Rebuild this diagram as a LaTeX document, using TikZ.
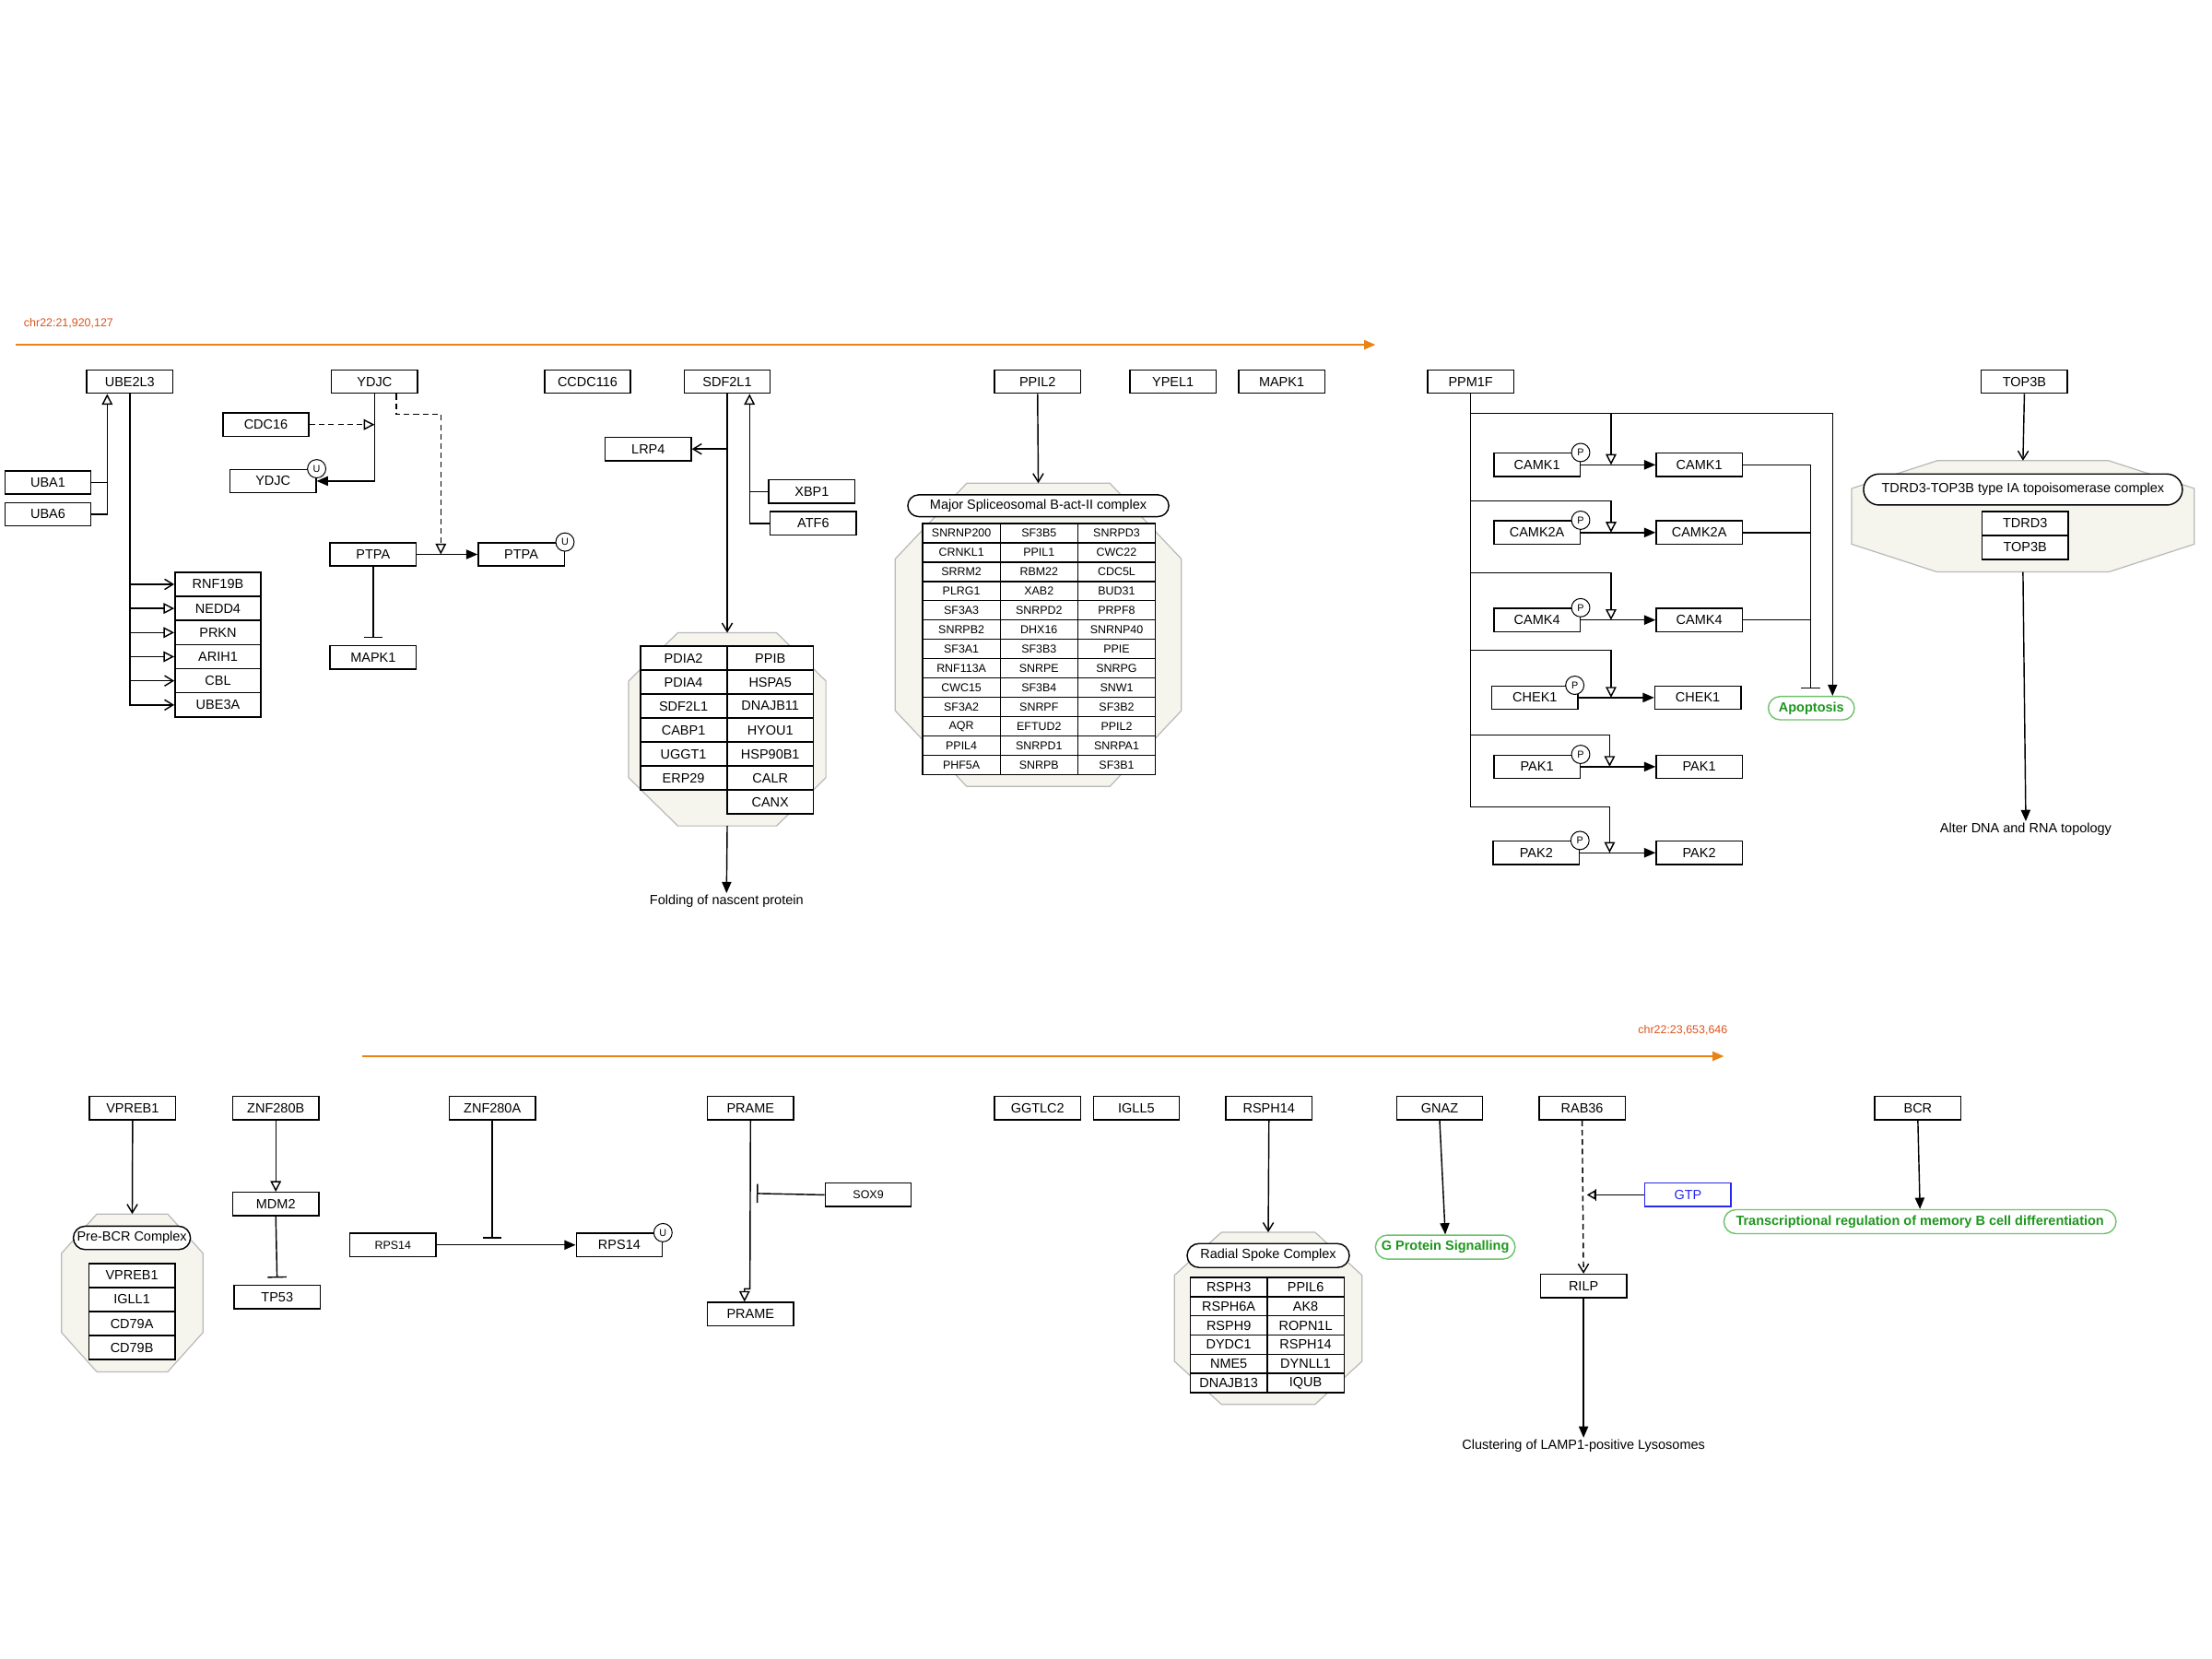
\documentclass[tikz,border=0pt]{standalone}
\usepackage{fontspec}
\setmainfont{Liberation Sans}
\usetikzlibrary{arrows.meta,calc,shapes.misc}

\definecolor{chrtext}{RGB}{217,83,30}
\definecolor{chrline}{RGB}{234,130,20}
\definecolor{cxfill}{RGB}{245,245,237}
\definecolor{cxline}{RGB}{185,185,185}
\definecolor{phtext}{RGB}{30,150,30}
\definecolor{phline}{RGB}{110,195,110}
\definecolor{gtpblue}{RGB}{40,40,235}

\tikzset{every picture/.style={line width=0.7pt},
  gene/.style={draw, fill=white, rectangle, minimum width=45.75pt, minimum height=12.4pt, inner sep=0pt, font=\fontsize{7.1pt}{8.5pt}\selectfont},
  genesm/.style={gene, font=\fontsize{6.1pt}{7pt}\selectfont},
  cell/.style={gene, minimum height=12.8pt},
  spcell/.style={gene, minimum width=41.25pt, minimum height=10.3pt, font=\fontsize{6.1pt}{7pt}\selectfont},
  rscell/.style={gene, minimum width=40.9pt, minimum height=10.2pt},
  cxtitle/.style={draw, fill=white, rounded rectangle, inner sep=0pt, minimum height=11.6pt, font=\fontsize{7.1pt}{8.5pt}\selectfont},
  cxbox/.style={inner sep=0pt},
  cxshape/.style={draw=cxline, fill=cxfill, line width=0.6pt},
  pheno/.style={draw=phline, fill=white, rounded rectangle, inner sep=0pt, minimum height=12.4pt, text=phtext, font=\fontsize{7.1pt}{8.5pt}\selectfont\bfseries},
  lbl/.style={inner sep=0.75pt, font=\fontsize{7.1pt}{8.5pt}\selectfont},
  ptm/.style={draw, fill=white, circle, inner sep=0pt, minimum size=9.75pt, line width=0.5pt, font=\fontsize{5.3pt}{6pt}\selectfont},
  chrlbl/.style={inner sep=0pt, text=chrtext, font=\fontsize{6.1pt}{7pt}\selectfont},
  chrarrow/.style={draw=chrline, -{Triangle[length=6pt,width=5pt]}},
  filltri/.style={-{Triangle[length=6pt,width=5pt]}},
  opentri/.style={-{Triangle[open,length=5.7pt,width=5.7pt]}},
  vbarb/.style={-{Straight Barb[length=4.5pt,width=5.5pt]}},
  tbar/.style={-{Bar[width=10pt]}},
  gtptip/.style={-{Bar[width=6.5pt] Triangle[open,length=4.5pt,width=5pt,sep=2pt]}},
  dashline/.style={dash pattern=on 3pt off 2pt}
}

% complex outline round an invisible node
\newcommand{\cxoct}[1]{%
  \path[cxshape] ($(#1.north west)!0.25!(#1.north east)$) -- ($(#1.north west)!0.75!(#1.north east)$)
    -- ($(#1.north east)!0.25!(#1.south east)$) -- ($(#1.north east)!0.75!(#1.south east)$)
    -- ($(#1.south west)!0.75!(#1.south east)$) -- ($(#1.south west)!0.25!(#1.south east)$)
    -- ($(#1.north west)!0.75!(#1.south west)$) -- ($(#1.north west)!0.25!(#1.south west)$) -- cycle;}

\begin{document}
\begin{tikzpicture}[x=0.75pt,y=0.75pt,yscale=-1,xscale=1]
\useasboundingbox (0,0) rectangle (1568,1176);

% Chromosome band
\node[chrlbl, anchor=west] (chrstart) at (16.5,229) {chr22:21,920,127};
\coordinate (chrA0) at (11,244.4);
\coordinate (chrA1) at (975,244.4);
\draw[chrarrow] (chrA0) -- (chrA1);

% Text Node
\node[gene] (ube2l3) at (92,270.5) {UBE2L3};
\node[gene] (ydjc) at (265.5,270.5) {YDJC};
\node[gene] (ccdc116) at (416.5,270.5) {CCDC116};
\node[gene] (sdf2l1) at (515.5,270.5) {SDF2L1};
\node[gene] (ppil2) at (735.5,270.5) {PPIL2};
\node[gene] (ypel1) at (831.5,270.5) {YPEL1};
\node[gene] (mapk1) at (908.5,270.5) {MAPK1};
\node[gene] (ppm1f) at (1042.5,270.5) {PPM1F};
\node[gene] (top3b) at (1435,270.5) {TOP3B};

% Text Node
\node[gene] (uba1) at (34,342) {UBA1};
\node[gene] (uba6) at (34,364.5) {UBA6};
\coordinate (ubaj) at (76,342);
\node[cell] (rnf19b) at (154.5,414.2) {RNF19B};
\node[cell] (nedd4) at (154.5,431.3) {NEDD4};
\node[cell] (prkn) at (154.5,448.4) {PRKN};
\node[cell] (arih1) at (154.5,465.5) {ARIH1};
\node[cell] (cbl) at (154.5,482.6) {CBL};
\node[cell] (ube3a) at (154.5,499.7) {UBE3A};
% Connection
\draw (uba6.east) -| (ubaj);
\draw[opentri] (uba1.east) -- (ubaj) -- (ubaj |- ube2l3.south);
\draw[vbarb] (ube2l3.south) |- (rnf19b.west);
\draw[opentri] (ube2l3.south) |- (nedd4.west);
\draw[opentri] (ube2l3.south) |- (prkn.west);
\draw[opentri] (ube2l3.south) |- (arih1.west);
\draw[vbarb] (ube2l3.south) |- (cbl.west);
\draw[vbarb] (ube2l3.south) |- (ube3a.west);

% Text Node
\node[gene] (cdc16) at (188.5,301) {CDC16};
\node[gene] (ydjcu) at (193.5,341) {YDJC};
\node[ptm] (ydjcuS) at (ydjcu.north east) {U};
\node[gene] (ptpa) at (264.5,393) {PTPA};
\node[gene] (ptpau) at (369.5,393) {PTPA};
\node[ptm] (ptpauS) at (ptpau.north east) {U};
\node[gene] (mapk1b) at (264.5,466) {MAPK1};
\coordinate (ptpamid) at (312.5,393);
% Connection
\draw[dashline, opentri] (cdc16.east) -- (cdc16.east -| ydjc.south);
\draw[filltri] (ydjc.south) |- (ydjcu.east);
\draw[dashline, opentri] ([xshift=11.5pt]ydjc.south) -- ++(0,14.5) -| (ptpamid);
\draw[filltri] (ptpa) -- (ptpau);
\draw[tbar, shorten >=3.75pt] (ptpa.south) -- (mapk1b.north);

% Text Node
\node[gene] (lrp4) at (459.5,318.3) {LRP4};
\node[gene] (xbp1) at (575.5,348.5) {XBP1};
\node[gene] (atf6) at (576.5,371) {ATF6};
\coordinate (sdfj) at (531.3,348.5);
% Complex
\node[cxbox, minimum width=104.25pt, minimum height=102pt] (cxpdia) at (515.5,517) {};
\cxoct{cxpdia}
\node[cell] (pdia2) at (484.5,466.5) {PDIA2};
\node[cell] (pdia4) at (484.5,483.5) {PDIA4};
\node[cell] (sdf2l1c) at (484.5,500.5) {SDF2L1};
\node[cell] (cabp1) at (484.5,517.5) {CABP1};
\node[cell] (uggt1) at (484.5,534.5) {UGGT1};
\node[cell] (erp29) at (484.5,551.5) {ERP29};
\node[cell] (ppib) at (546,466.5) {PPIB};
\node[cell] (hspa5) at (546,483.5) {HSPA5};
\node[cell] (dnajb11) at (546,500.5) {DNAJB11};
\node[cell] (hyou1) at (546,517.5) {HYOU1};
\node[cell] (hsp90b1) at (546,534.5) {HSP90B1};
\node[cell] (calr) at (546,551.5) {CALR};
\node[cell] (canx) at (546,568.5) {CANX};
\node[lbl] (folding) at (515,639) {Folding of nascent protein};
% Connection
\draw[vbarb] (sdf2l1.south) -- (cxpdia.north);
\draw[vbarb] (sdf2l1.south |- lrp4.east) -- (lrp4.east);
\draw (atf6.west) -| (sdfj);
\draw[opentri] (xbp1.west) -- (sdfj) -- (sdfj |- sdf2l1.south);
\draw[filltri] (cxpdia.south) -- (folding.north);

% Complex
\node[cxbox, minimum width=151.5pt, minimum height=160.5pt] (cxsplice) at (736,450) {};
\cxoct{cxsplice}
\node[cxtitle, minimum width=138.75pt] (splicet) at (736,358.5) {Major Spliceosomal B-act-II complex};
\node[spcell] (snrnp200) at (681.5,377.9) {SNRNP200};
\node[spcell] (crnkl1) at (681.5,391.6) {CRNKL1};
\node[spcell] (srrm2) at (681.5,405.3) {SRRM2};
\node[spcell] (plrg1) at (681.5,419.0) {PLRG1};
\node[spcell] (sf3a3) at (681.5,432.7) {SF3A3};
\node[spcell] (snrpb2) at (681.5,446.4) {SNRPB2};
\node[spcell] (sf3a1) at (681.5,460.1) {SF3A1};
\node[spcell] (rnf113a) at (681.5,473.8) {RNF113A};
\node[spcell] (cwc15) at (681.5,487.5) {CWC15};
\node[spcell] (sf3a2) at (681.5,501.2) {SF3A2};
\node[spcell] (aqr) at (681.5,514.9) {AQR};
\node[spcell] (ppil4) at (681.5,528.6) {PPIL4};
\node[spcell] (phf5a) at (681.5,542.3) {PHF5A};
\node[spcell] (sf3b5) at (736.5,377.9) {SF3B5};
\node[spcell] (ppil1) at (736.5,391.6) {PPIL1};
\node[spcell] (rbm22) at (736.5,405.3) {RBM22};
\node[spcell] (xab2) at (736.5,419.0) {XAB2};
\node[spcell] (snrpd2) at (736.5,432.7) {SNRPD2};
\node[spcell] (dhx16) at (736.5,446.4) {DHX16};
\node[spcell] (sf3b3) at (736.5,460.1) {SF3B3};
\node[spcell] (snrpe) at (736.5,473.8) {SNRPE};
\node[spcell] (sf3b4) at (736.5,487.5) {SF3B4};
\node[spcell] (snrpf) at (736.5,501.2) {SNRPF};
\node[spcell] (eftud2) at (736.5,514.9) {EFTUD2};
\node[spcell] (snrpd1) at (736.5,528.6) {SNRPD1};
\node[spcell] (snrpb) at (736.5,542.3) {SNRPB};
\node[spcell] (snrpd3) at (791.5,377.9) {SNRPD3};
\node[spcell] (cwc22) at (791.5,391.6) {CWC22};
\node[spcell] (cdc5l) at (791.5,405.3) {CDC5L};
\node[spcell] (bud31) at (791.5,419.0) {BUD31};
\node[spcell] (prpf8) at (791.5,432.7) {PRPF8};
\node[spcell] (snrnp40) at (791.5,446.4) {SNRNP40};
\node[spcell] (ppie) at (791.5,460.1) {PPIE};
\node[spcell] (snrpg) at (791.5,473.8) {SNRPG};
\node[spcell] (snw1) at (791.5,487.5) {SNW1};
\node[spcell] (sf3b2) at (791.5,501.2) {SF3B2};
\node[spcell] (ppil2c) at (791.5,514.9) {PPIL2};
\node[spcell] (snrpa1) at (791.5,528.6) {SNRPA1};
\node[spcell] (sf3b1) at (791.5,542.3) {SF3B1};
% Connection
\draw[vbarb] (ppil2.south) -- (cxsplice.north);

% Text Node
\node[gene] (camk1p) at (1089.5,329.5) {CAMK1};
\node[gene] (camk1) at (1204.5,329.5) {CAMK1};
\node[gene] (camk2ap) at (1089.5,377.5) {CAMK2A};
\node[gene] (camk2a) at (1204.5,377.5) {CAMK2A};
\node[gene] (camk4p) at (1089.5,439.5) {CAMK4};
\node[gene] (camk4) at (1204.5,439.5) {CAMK4};
\node[gene] (chek1p) at (1088,494.5) {CHEK1};
\node[gene] (chek1) at (1203.5,494.5) {CHEK1};
\node[gene] (pak1p) at (1089.5,543.5) {PAK1};
\node[gene] (pak1) at (1204.5,543.5) {PAK1};
\node[gene] (pak2p) at (1089,604.5) {PAK2};
\node[gene] (pak2) at (1204.5,604.5) {PAK2};
\node[ptm] (camk1pS) at (camk1p.north east) {P};
\node[ptm] (camk2apS) at (camk2ap.north east) {P};
\node[ptm] (camk4pS) at (camk4p.north east) {P};
\node[ptm] (chek1pS) at ([xshift=-2pt]chek1p.north east) {P};
\node[ptm] (pak1pS) at (pak1p.north east) {P};
\node[ptm] (pak2pS) at (pak2p.north east) {P};
\node[pheno, minimum width=45.75pt] (apopt) at (1284,502) {Apoptosis};
\coordinate (ppmA) at (1299,293);
\coordinate (b1) at (1142,293);
\coordinate (b2) at (1042.5,355);
\coordinate (b3) at (1042.5,406);
\coordinate (b4) at (1042.5,461);
\coordinate (b5) at (1042.5,521);
\coordinate (b6) at (1042.5,572);
\coordinate (rx1) at (1142,329.5);
\coordinate (rx2) at (1142,377.5);
\coordinate (rx3) at (1142,439.5);
\coordinate (rx4) at (1142,494.5);
\coordinate (rx5) at (1141,543.5);
\coordinate (rx6) at (1141,604.5);
\coordinate (inh) at (1283.5,488);
% Connection
\draw (ppm1f.south) -- (b6);
\draw[filltri] (ppm1f.south) |- (ppmA) -- ([xshift=11.25pt]apopt.north);
\draw[opentri] (b1) -- (rx1);
\draw[opentri] (b2) -| (rx2);
\draw[opentri] (b3) -| (rx3);
\draw[opentri] (b4) -| (rx4);
\draw[opentri] (b5) -| (rx5);
\draw[opentri] (b6) -| (rx6);
\draw[filltri] (camk1p) -- (camk1);
\draw[filltri] (camk2ap) -- (camk2a);
\draw[filltri] (camk4p) -- (camk4);
\draw[filltri] (chek1p) -- (chek1);
\draw[filltri] (pak1p) -- (pak1);
\draw[filltri] (pak2p) -- (pak2);
\draw[tbar] (camk1.east) -| (inh);
\draw (camk2a.east) -- (camk2a.east -| inh);
\draw (camk4.east) -- (camk4.east -| inh);

% Complex
\node[cxbox, minimum width=181.5pt, minimum height=58.5pt] (cxtop) at (1434,366) {};
\cxoct{cxtop}
\node[cxtitle, minimum width=169.5pt, minimum height=16.5pt] (topt) at (1434,347) {TDRD3-TOP3B type IA topoisomerase complex};
\node[cell] (tdrd3) at (1435.5,371) {TDRD3};
\node[cell] (top3bc) at (1435.5,388) {TOP3B};
\node[lbl] (alter) at (1436,588) {Alter DNA and RNA topology};
% Connection
\draw[vbarb] (top3b.south) -- (cxtop.north);
\draw[filltri] (cxtop.south) -- (alter.north);

% Chromosome band
\node[chrlbl, anchor=east] (chrend) at (1225,730.5) {chr22:23,653,646};
\coordinate (chrB0) at (257,748.7);
\coordinate (chrB1) at (1222,748.7);
\draw[chrarrow] (chrB0) -- (chrB1);

% Text Node
\node[gene] (vpreb1) at (94,785.5) {VPREB1};
\node[gene] (znf280b) at (195.5,785.5) {ZNF280B};
\node[gene] (znf280a) at (349,785.5) {ZNF280A};
\node[gene] (prame) at (532,785.5) {PRAME};
\node[gene] (ggtlc2) at (735.5,785.5) {GGTLC2};
\node[gene] (igll5) at (805.5,785.5) {IGLL5};
\node[gene] (rsph14) at (899.5,785.5) {RSPH14};
\node[gene] (gnaz) at (1020.5,785.5) {GNAZ};
\node[gene] (rab36) at (1121.5,785.5) {RAB36};
\node[gene] (bcr) at (1359.5,785.5) {BCR};

% Complex
\node[cxbox, minimum width=74.6pt, minimum height=83.25pt] (cxpre) at (93.75,916.5) {};
\cxoct{cxpre}
\node[cxtitle, minimum width=62.25pt, minimum height=12.4pt] (pret) at (93.5,877.5) {Pre-BCR Complex};
\node[cell] (vpreb1c) at (93.5,904.2) {VPREB1};
\node[cell] (igll1) at (93.5,921.2) {IGLL1};
\node[cell] (cd79a) at (93.5,938.2) {CD79A};
\node[cell] (cd79b) at (93.5,955.2) {CD79B};
% Connection
\draw[vbarb] (vpreb1.south) -- (cxpre.north);

% Text Node
\node[gene] (mdm2) at (195.5,853.5) {MDM2};
\node[gene] (tp53) at (196.5,919.5) {TP53};
\node[genesm] (rps14a) at (278.5,882.5) {RPS14};
\node[gene] (rps14b) at (439,882.5) {RPS14};
\node[ptm] (rps14bS) at (rps14b.north east) {U};
\coordinate (rpsinh) at (349,878);
% Connection
\draw[opentri] (znf280b.south) -- (mdm2.north);
\draw[tbar, shorten >=3.75pt] (mdm2.south) -- (tp53.north);
\draw[filltri] (rps14a) -- (rps14b);
\draw[tbar] (znf280a.south) -- (rpsinh);

% Text Node
\node[gene] (prame2) at (532,931.5) {PRAME};
\node[genesm] (sox9) at (615.5,847) {SOX9};
\coordinate (prjog) at (531.6,913.6);
\coordinate (soxinh) at (536.4,846);
% Connection
\draw[opentri] (prame.south) -- (prjog) -| ([xshift=-3.2pt]prame2.north);
\draw[tbar] (sox9.west) -- (soxinh);

% Complex
\node[cxbox, minimum width=99pt, minimum height=90.75pt] (cxrad) at (899,934.5) {};
\cxoct{cxrad}
\node[cxtitle, minimum width=86.25pt, minimum height=12.75pt] (radt) at (899,890) {Radial Spoke Complex};
\node[rscell] (rsph3) at (871,912.4) {RSPH3};
\node[rscell] (rsph6a) at (871,926) {RSPH6A};
\node[rscell] (rsph9) at (871,939.6) {RSPH9};
\node[rscell] (dydc1) at (871,953.2) {DYDC1};
\node[rscell] (nme5) at (871,966.8) {NME5};
\node[rscell] (dnajb13) at (871,980.4) {DNAJB13};
\node[rscell] (ppil6) at (925.5,912.4) {PPIL6};
\node[rscell] (ak8) at (925.5,926) {AK8};
\node[rscell] (ropn1l) at (925.5,939.6) {ROPN1L};
\node[rscell] (rsph14c) at (925.5,953.2) {RSPH14};
\node[rscell] (dynll1) at (925.5,966.8) {DYNLL1};
\node[rscell] (iqub) at (925.5,980.4) {IQUB};
% Connection
\draw[vbarb] (rsph14.south) -- (cxrad.north);

% Text Node
\node[pheno, minimum width=74.25pt, minimum height=12.75pt] (gps) at (1024.5,884) {G Protein Signalling};
\node[gene] (rilp) at (1122.5,911.5) {RILP};
\node[gene, draw=gtpblue, text=gtpblue] (gtp) at (1196.5,847) {GTP};
\coordinate (gtpend) at (1122.2,847);
\node[lbl] (clust) at (1122.5,1025) {Clustering of LAMP1-positive Lysosomes};
\node[pheno, minimum width=208.5pt, minimum height=12.75pt] (trans) at (1361,866) {Transcriptional regulation of memory B cell differentiation};
% Connection
\draw[filltri] (gnaz.south) -- (gps.north);
\draw[dashline, vbarb] (rab36.south) -- (rilp.north);
\draw[gtptip] (gtp.west) -- (gtpend);
\draw[filltri] (rilp.south) -- (clust.north);
\draw[filltri] (bcr.south) -- (trans.north);

\end{tikzpicture}
\end{document}
